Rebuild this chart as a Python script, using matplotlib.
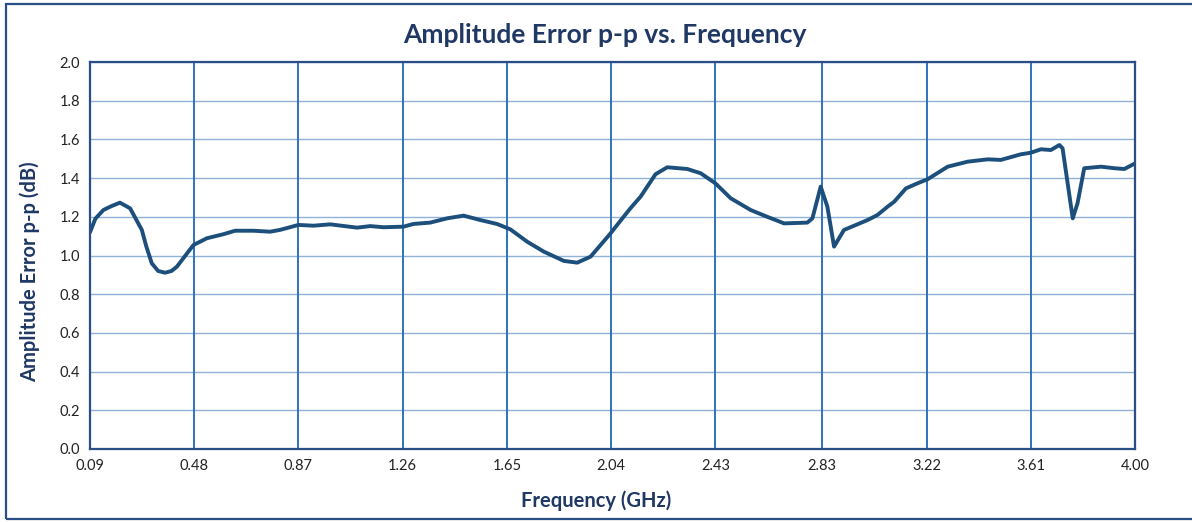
import matplotlib
matplotlib.use("Agg")
import matplotlib.pyplot as plt
from matplotlib.patches import Rectangle
import numpy as np

freq_ghz = [0.09, 0.11, 0.14, 0.17, 0.202, 0.24, 0.284, 0.30, 0.321, 0.345, 0.371, 0.395, 0.415,
            0.477, 0.527,
            0.589, 0.633, 0.702, 0.764, 0.80, 0.87, 0.926, 0.989, 1.089, 1.139,
            1.188, 1.263, 1.30, 1.363, 1.426, 1.488, 1.551, 1.613, 1.663, 1.726,
            1.788, 1.863, 1.913, 1.963, 2.038, 2.075, 2.112, 2.15, 2.206, 2.25,
            2.325, 2.375, 2.43, 2.487, 2.562, 2.624, 2.687, 2.774, 2.793, 2.824,
            2.849, 2.874, 2.911, 2.999, 3.036, 3.074, 3.099, 3.143, 3.186, 3.224,
            3.299, 3.374, 3.449, 3.498, 3.573, 3.61, 3.648, 3.685, 3.717, 3.729,
            3.767, 3.785, 3.81, 3.873, 3.923, 3.96, 4.00]
error_db = [1.12, 1.19, 1.235, 1.255, 1.273, 1.244, 1.132, 1.05, 0.96, 0.92, 0.911, 0.92, 0.942,
            1.054, 1.089,
            1.110, 1.128, 1.128, 1.123, 1.132, 1.158, 1.154, 1.161, 1.144, 1.152,
            1.146, 1.149, 1.163, 1.170, 1.192, 1.206, 1.183, 1.163, 1.135, 1.071,
            1.020, 0.972, 0.963, 0.994, 1.115, 1.18, 1.244, 1.304, 1.42, 1.456,
            1.447, 1.425, 1.373, 1.296, 1.235, 1.20, 1.166, 1.17, 1.192, 1.356,
            1.252, 1.046, 1.132, 1.183, 1.209, 1.252, 1.278, 1.347, 1.373, 1.394,
            1.459, 1.485, 1.497, 1.494, 1.523, 1.531, 1.549, 1.545, 1.571, 1.554,
            1.192, 1.27, 1.451, 1.459, 1.451, 1.447, 1.476]

x_ticks = [0.09, 0.48, 0.87, 1.26, 1.65, 2.04, 2.43, 2.83, 3.22, 3.61, 4.00]
x_tick_labels = ["0.09", "0.48", "0.87", "1.26", "1.65", "2.04", "2.43", "2.83", "3.22", "3.61", "4.00"]
y_ticks = [0.0, 0.2, 0.4, 0.6, 0.8, 1.0, 1.2, 1.4, 1.6, 1.8, 2.0]

title = "Amplitude Error p-p vs. Frequency"
x_label = "Frequency (GHz)"
y_label = "Amplitude Error p-p (dB)"

plt.rcParams['font.family'] = ['Lato', 'DejaVu Sans']

fig = plt.figure(figsize=(11.92, 5.22), dpi=100)
W, H = 1192, 522
ax = fig.add_axes([90 / W, 1 - 449 / H, (1135 - 90) / W, (449 - 62) / H])

# outer border
fig.patches.append(Rectangle((6 / W, 1 - 519 / H), 1.2, (515 / H), transform=fig.transFigure,
                             fill=False, edgecolor="#2a4f86", linewidth=1.6, zorder=0))

ax.plot(freq_ghz, error_db, color="#1c4f7c", linewidth=2.8, zorder=3,
        solid_joinstyle="round", solid_capstyle="round")

ax.set_xlim(0.09, 4.00)
ax.set_ylim(0.0, 2.0)
ax.set_xticks(x_ticks)
ax.set_xticklabels(x_tick_labels)
ax.set_yticks(y_ticks)
ax.set_yticklabels([f"{v:.1f}" for v in y_ticks])
ax.tick_params(length=0, labelsize=10.5, colors="#222222", pad=7)

for v in y_ticks:
    ax.axhline(v, color="#8fb2d8", linewidth=1.0, zorder=1)
for v in x_ticks:
    ax.axvline(v, color="#2f73bd", linewidth=1.4, zorder=2)

for s in ax.spines.values():
    s.set_color("#2a4f86")
    s.set_linewidth(1.6)
    s.set_zorder(4)

fig.text(605 / W, 1 - 35 / H, title, ha="center", va="center", fontsize=19,
         fontweight="bold", color="#1f3864")
fig.text(596 / W, 1 - 501 / H, x_label, ha="center", va="center", fontsize=14.5,
         fontweight="bold", color="#1f3864")
fig.text(30 / W, 1 - 272 / H, y_label, ha="center", va="center", fontsize=14.5,
         fontweight="bold", color="#1f3864", rotation=90)

fig.savefig("out.png", dpi=100)
